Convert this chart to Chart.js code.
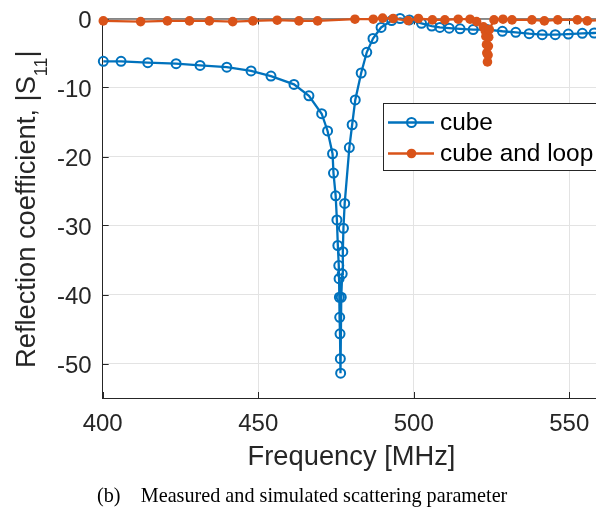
<!DOCTYPE html>
<html>
<head>
<meta charset="utf-8">
<script src="https://cdn.jsdelivr.net/npm/chart.js@4.4.0/dist/chart.umd.min.js"></script>
<style>
  html, body { margin: 0; padding: 0; background: #fff; }
  #wrap { width: 596px; height: 508px; }
</style>
</head>
<body>
<div id="wrap"><canvas id="s11Chart" width="596" height="508"></canvas></div>
<script>
// values (MHz / dB)
const cubeFreq = [400.2, 405.9, 414.5, 423.6, 431.3, 439.9, 447.7, 454.1, 461.5, 466.3, 470.4, 472.3, 473.9, 474.2, 474.9,
  475.3, 475.6, 475.9, 476.0, 476.1, 476.2, 476.3, 476.4, 476.5, 476.7, 477.0, 477.2, 477.4, 477.8, 479.3, 480.2, 481.2,
  483.1, 484.9, 486.9, 489.5, 492.9, 495.6, 498.6, 502.5, 505.8, 508.4, 511.4, 514.9, 519.1, 523.6, 528.5, 532.8, 537.1,
  541.3, 545.5, 549.7, 554.2, 558.0, 562.0];
const cubeS11 = [-6.2, -6.2, -6.4, -6.55, -6.8, -7.05, -7.6, -8.35, -9.55, -11.2, -13.8, -16.3, -19.6, -22.4, -25.7,
  -29.2, -32.9, -35.8, -37.7, -40.4, -43.3, -45.7, -49.3, -51.4, -40.4, -37.0, -33.8, -30.4, -26.8, -18.7, -15.4, -11.8,
  -7.9, -4.9, -2.9, -1.3, -0.3, 0.0, -0.2, -0.7, -1.1, -1.3, -1.4, -1.5, -1.6, -1.6, -1.85, -2.0, -2.2,
  -2.35, -2.35, -2.25, -2.15, -2.1, -2.05];

const loopFreq = [400.2, 412.2, 420.8, 427.9, 434.3, 441.8, 448.3, 456.1, 463.1, 469.1, 481.1, 487.0, 490.0, 493.4,
  498.2, 501.5, 506.0, 510.0, 514.3, 518.1, 520.2, 522.4, 523.0, 523.2, 523.4, 523.5, 523.7, 523.9, 524.0, 524.1,
  524.3, 525.8, 528.7, 531.6, 538.0, 542.0, 546.3, 552.6, 555.8, 562.0];
const loopS11 = [-0.35, -0.45, -0.35, -0.35, -0.35, -0.45, -0.35, -0.25, -0.35, -0.35, -0.1, -0.1, 0.05, 0.0,
  -0.3, 0.0, -0.2, -0.2, -0.1, -0.1, -0.45, -1.2, -1.8, -2.6, -3.8, -5.0, -6.3, -5.3, -4.0, -2.7,
  -1.6, -0.2, -0.1, -0.2, -0.2, -0.35, -0.2, -0.2, -0.35, -0.2];

const xTicks = [400, 450, 500, 550];
const yTicks = [0, -10, -20, -30, -40, -50];
const seriesNames = ['cube', 'cube and loop'];
const seriesColors = ['#0072BD', '#D95319'];
const xTitle = 'Frequency [MHz]';
const yTitle = ['Reflection coefficient, |S', '11', '|'];
const caption = '(b)\u2003Measured and simulated scattering parameter';

const sans = "'Liberation Sans', Arial, Helvetica, sans-serif";
const ink = '#262626';

function toPoints(xs, ys) {
  return xs.map((v, i) => ({ x: v, y: ys[i] }));
}

function drawMarker(ctx, idx, cx, cy) {
  ctx.beginPath();
  if (idx === 0) {
    ctx.arc(cx, cy, 4.5, 0, Math.PI * 2);
    ctx.lineWidth = 2;
    ctx.strokeStyle = seriesColors[0];
    ctx.stroke();
  } else {
    ctx.arc(cx, cy, 4.8, 0, Math.PI * 2);
    ctx.fillStyle = seriesColors[1];
    ctx.fill();
  }
}

const decorations = {
  id: 'decorations',
  beforeDatasetsDraw(chart) {
    const { ctx, chartArea: a, scales: { x, y } } = chart;
    ctx.save();
    ctx.strokeStyle = ink;
    ctx.lineWidth = 1;
    ctx.beginPath();
    ctx.moveTo(a.left, a.top + 0.5);
    ctx.lineTo(a.right, a.top + 0.5);
    xTicks.forEach(v => {
      const px = Math.round(x.getPixelForValue(v)) + 0.5;
      ctx.moveTo(px, a.bottom);
      ctx.lineTo(px, a.bottom - 6);
      ctx.moveTo(px, a.top);
      ctx.lineTo(px, a.top + 6);
    });
    yTicks.forEach(v => {
      const py = Math.round(y.getPixelForValue(v)) + 0.5;
      ctx.moveTo(a.left, py);
      ctx.lineTo(a.left + 6, py);
    });
    ctx.stroke();

    // y tick labels
    ctx.fillStyle = ink;
    ctx.font = '24px ' + sans;
    ctx.textAlign = 'right';
    ctx.textBaseline = 'middle';
    yTicks.forEach(v => {
      ctx.fillText(String(v), a.left - 11, y.getPixelForValue(v) + 2.5);
    });
    ctx.restore();
  },
  afterDatasetsDraw(chart) {
    const ctx = chart.ctx;
    ctx.save();
    // legend box
    ctx.fillStyle = '#fff';
    ctx.fillRect(383.5, 103.5, 230, 67);
    ctx.strokeStyle = ink;
    ctx.lineWidth = 1;
    ctx.strokeRect(383.5, 103.5, 230, 67);
    const rows = [122.5, 153.5];
    rows.forEach((ry, i) => {
      ctx.beginPath();
      ctx.moveTo(388, ry);
      ctx.lineTo(434, ry);
      ctx.lineWidth = 2.3;
      ctx.strokeStyle = seriesColors[i];
      ctx.stroke();
      drawMarker(ctx, i, 411.5, ry);
      ctx.fillStyle = '#000';
      ctx.font = '24.4px ' + sans;
      ctx.textBaseline = 'middle';
      ctx.textAlign = 'left';
      ctx.fillText(seriesNames[i], 440, ry + 1);
    });
    ctx.restore();
  },
  afterDraw(chart) {
    const ctx = chart.ctx;
    ctx.save();
    ctx.fillStyle = ink;
    ctx.textBaseline = 'middle';
    ctx.textAlign = 'center';
    ctx.font = '27.3px ' + sans;
    ctx.fillText(xTitle, 351.5, 457);

    // rotated y title with subscript
    ctx.translate(34.5, 368);
    ctx.rotate(-Math.PI / 2);
    ctx.textAlign = 'left';
    ctx.textBaseline = 'alphabetic';
    ctx.font = '27.3px ' + sans;
    let tx = 0;
    ctx.fillText(yTitle[0], tx, 0);
    tx += ctx.measureText(yTitle[0]).width;
    ctx.font = '18px ' + sans;
    ctx.fillText(yTitle[1], tx, 12);
    tx += ctx.measureText(yTitle[1]).width;
    ctx.font = '27.3px ' + sans;
    ctx.fillText(yTitle[2], tx, 0);
    ctx.restore();

    ctx.save();
    ctx.fillStyle = '#000';
    ctx.font = "20.2px 'Liberation Serif', 'Times New Roman', serif";
    ctx.textBaseline = 'middle';
    ctx.textAlign = 'left';
    ctx.fillText(caption, 97, 497);
    ctx.restore();
  }
};

new Chart(document.getElementById('s11Chart'), {
  type: 'scatter',
  data: {
    datasets: [
      {
        label: seriesNames[0],
        data: toPoints(cubeFreq, cubeS11),
        showLine: true,
        borderColor: seriesColors[0],
        borderWidth: 2.3,
        pointRadius: 4.5,
        pointBorderWidth: 2,
        pointBorderColor: seriesColors[0],
        pointBackgroundColor: 'rgba(0,0,0,0)',
        clip: false,
        order: 1
      },
      {
        label: seriesNames[1],
        data: toPoints(loopFreq, loopS11),
        showLine: true,
        borderColor: seriesColors[1],
        borderWidth: 2.3,
        pointRadius: 4.8,
        pointBorderWidth: 0,
        pointBackgroundColor: seriesColors[1],
        clip: false,
        order: 0
      }
    ]
  },
  options: {
    responsive: false,
    animation: false,
    devicePixelRatio: 1,
    layout: { autoPadding: false, padding: { top: 18.5, right: 0, left: 0, bottom: 0 } },
    plugins: { legend: { display: false }, tooltip: { enabled: false } },
    scales: {
      x: {
        type: 'linear',
        min: 400,
        max: 558.6,
        afterBuildTicks: s => { s.ticks = xTicks.map(v => ({ value: v })); },
        afterFit: s => { s.height = 110; s.paddingLeft = 0; s.paddingRight = 0; },
        grid: { color: '#e3e3e3', drawTicks: false },
        border: { color: ink },
        ticks: { color: ink, padding: 12, font: { family: sans, size: 24 } }
      },
      y: {
        type: 'linear',
        min: -55,
        max: 0,
        afterBuildTicks: s => { s.ticks = yTicks.map(v => ({ value: v })); },
        afterFit: s => { s.width = 102.7; s.paddingTop = 0; s.paddingBottom = 0; },
        grid: { color: '#e3e3e3', drawTicks: false },
        border: { color: ink },
        ticks: { display: false }
      }
    }
  },
  plugins: [decorations]
});
</script>
</body>
</html>
